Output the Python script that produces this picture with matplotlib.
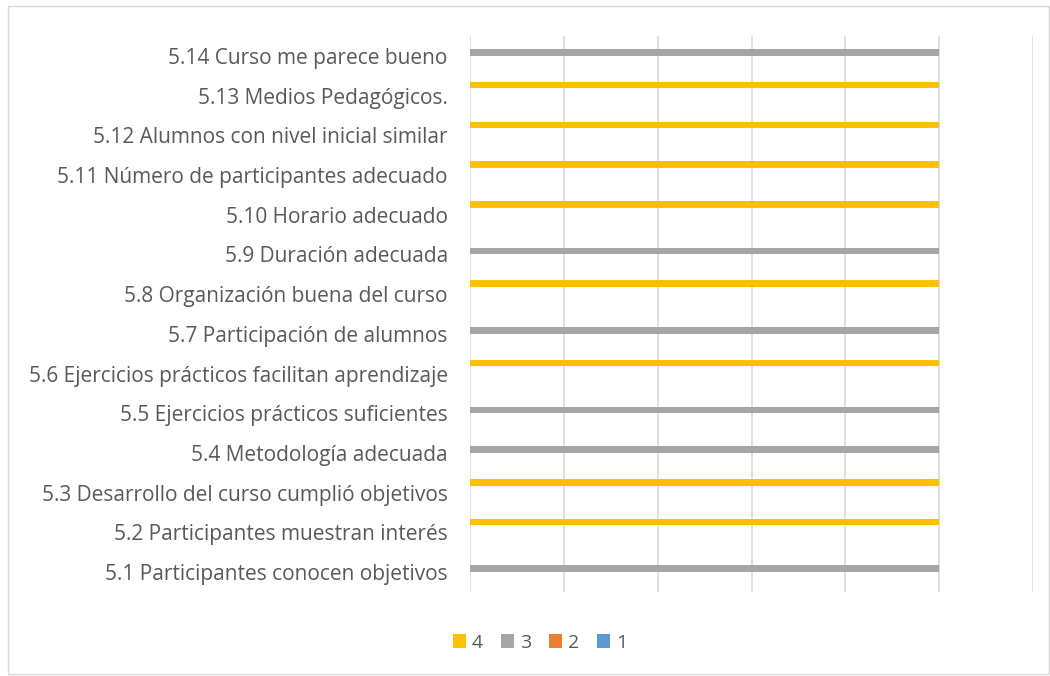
import numpy as np
import matplotlib.pyplot as plt
from matplotlib.patches import Rectangle

categories = [
    '5.1 Participantes conocen objetivos',
    '5.2 Participantes muestran interés',
    '5.3 Desarrollo del curso cumplió objetivos',
    '5.4 Metodología adecuada',
    '5.5 Ejercicios prácticos suficientes',
    '5.6 Ejercicios prácticos facilitan aprendizaje',
    '5.7 Participación de alumnos',
    '5.8 Organización buena del curso',
    '5.9 Duración adecuada',
    '5.10 Horario adecuado',
    '5.11 Número de participantes adecuado',
    '5.12 Alumnos con nivel inicial similar',
    '5.13 Medios Pedagógicos.',
    '5.14 Curso me parece bueno',
]
series_names = ['4', '3', '2', '1']
s4 = [0, 5, 5, 0, 0, 5, 0, 5, 0, 5, 5, 5, 5, 0]
s3 = [5, 0, 0, 5, 5, 0, 5, 0, 5, 0, 0, 0, 0, 5]
s2 = [0] * 14
s1 = [0] * 14
colors = ['#ffc000', '#a5a5a5', '#ed7d31', '#5b9bd5']

plt.rcParams['font.family'] = ['Open Sans', 'DejaVu Sans']
fig = plt.figure(figsize=(10.5, 6.76), dpi=100)
ax = fig.add_axes([470 / 1050, 1 - 592 / 676, (1033 - 470) / 1050, (592 - 36) / 676])

y = np.arange(len(categories))
h = 0.175
offsets = [1.5 * h, 0.5 * h, -0.5 * h, -1.5 * h]
for vals, name, c, off in zip([s4, s3, s2, s1], series_names, colors, offsets):
    ax.barh(y + off, vals, height=h * 0.95, color=c, label=name, zorder=3)

ax.set_xlim(0, 6)
ax.set_ylim(-0.5, len(categories) - 0.5)
ax.set_xticks(range(7))
ax.set_xticklabels([])
ax.tick_params(axis='x', length=0)
ax.tick_params(axis='y', length=0, pad=16)
ax.set_yticks(y)
ax.set_yticklabels(categories, fontsize=15, color='#595959')
ax.grid(axis='x', color='#d9d9d9', linewidth=1.2, zorder=0)
for s in ax.spines.values():
    s.set_visible(False)

leg = fig.legend(loc='center', bbox_to_anchor=(540 / 1050, 1 - 643 / 676), ncol=4,
                 frameon=False, fontsize=14, handlelength=0.7, handleheight=0.7,
                 handletextpad=0.3, columnspacing=0.9)
for t in leg.get_texts():
    t.set_color('#595959')

fig.patches.append(Rectangle((8 / 1050, 1 - 674 / 676), 1041 / 1050, 668 / 676,
                             transform=fig.transFigure, fill=False,
                             edgecolor='#d9d9d9', linewidth=1))

fig.savefig('out.png', dpi=100)
